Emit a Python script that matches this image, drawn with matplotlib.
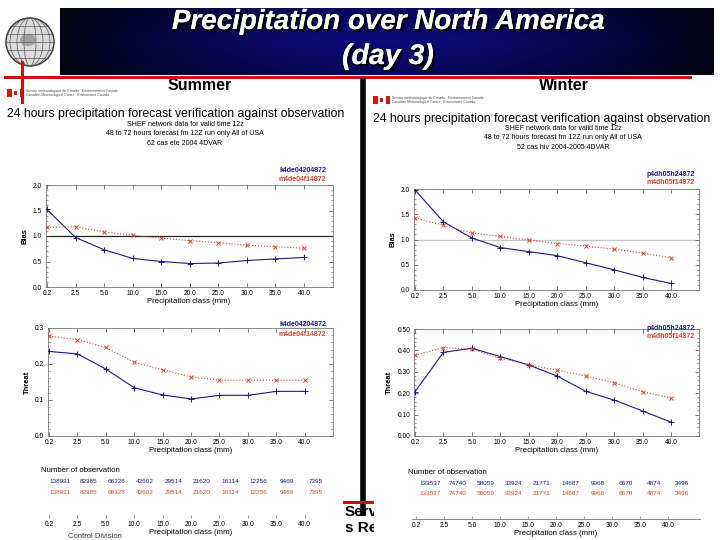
import numpy as np
import matplotlib
matplotlib.use('Agg')
import matplotlib.pyplot as plt
import matplotlib.patheffects as pe
from matplotlib.patches import Rectangle, Circle, Ellipse
from matplotlib.ticker import AutoMinorLocator, FormatStrFormatter

plt.rcParams['font.family'] = ['Liberation Sans', 'DejaVu Sans']

W, H = 720, 540

# data
classes = ['0.2', '2.5', '5.0', '10.0', '15.0', '20.0', '25.0', '30.0', '35.0', '40.0']

summer_names = ['k4de04204872', 'm4de04f14872']
winter_names = ['p4dh05h24872', 'm4dh05f14872']

summer_bias_k = [1.52, 0.97, 0.73, 0.56, 0.50, 0.46, 0.47, 0.52, 0.55, 0.58]
summer_bias_m = [1.17, 1.18, 1.08, 1.01, 0.96, 0.91, 0.87, 0.82, 0.79, 0.76]
summer_threat_k = [0.235, 0.228, 0.186, 0.134, 0.114, 0.103, 0.113, 0.113, 0.124, 0.124]
summer_threat_m = [0.277, 0.268, 0.246, 0.205, 0.184, 0.164, 0.155, 0.155, 0.155, 0.155]

winter_bias_p = [1.98, 1.35, 1.03, 0.84, 0.76, 0.68, 0.54, 0.40, 0.25, 0.13]
winter_bias_m = [1.43, 1.28, 1.13, 1.06, 0.99, 0.92, 0.87, 0.81, 0.73, 0.64]
winter_threat_p = [0.207, 0.391, 0.410, 0.371, 0.332, 0.280, 0.209, 0.168, 0.117, 0.065]
winter_threat_m = [0.377, 0.413, 0.405, 0.363, 0.332, 0.308, 0.280, 0.249, 0.207, 0.178]

summer_nobs = [138931, 82385, 66328, 42602, 29514, 21620, 16114, 12256, 9469, 7395]
winter_nobs = [133537, 74740, 58059, 33924, 21771, 14687, 9968, 6670, 4874, 3496]

head = '24 hours precipitation forecast verification against observation'
summer_sub = ['SHEF network data for valid time 12z',
              '48 to 72 hours forecast fm 12Z run only All of USA',
              '62 cas ete 2004 4DVAR']
winter_sub = ['SHEF network data for valid time 12z',
              '48 to 72 hours forecast fm 12Z run only All of USA',
              '52 cas hiv 2004-2005 4DVAR']

BLUE = '#1c1c84'
RED = '#d8432c'


def box(x0, y0, x1, y1):
    return [x0 / W, 1 - y1 / H, (x1 - x0) / W, (y1 - y0) / H]


def ftext(x, y, s, **kw):
    fig.text(x / W, 1 - y / H, s, **kw)


fig = plt.figure(figsize=(7.2, 5.4), dpi=100, facecolor='white')

# overlay axes for the slide decorations, pixel coords
deco = fig.add_axes([0, 0, 1, 1])
deco.set_xlim(0, W)
deco.set_ylim(H, 0)
deco.axis('off')

# banner with gradient
grad = np.linspace(-1, 1, 300)
g = 1 - np.abs(grad) ** 1.6
rgb = np.zeros((20, 300, 3))
vert = 1 - 0.25 * np.abs(np.linspace(-1, 1, 20))[:, None]
rgb[..., 0] = (0.01 + 0.03 * g) * vert
rgb[..., 1] = (0.01 + 0.03 * g) * vert
rgb[..., 2] = (0.08 + 0.40 * g) * vert
deco.imshow(rgb, extent=[60, 714, 75, 8], aspect='auto', zorder=1)

shadow = [pe.withSimplePatchShadow(offset=(1.6, -1.6), shadow_rgbFace='black', alpha=1.0), pe.Normal()]
deco.text(388, 22, 'Precipitation over North America', color='white', fontsize=20,
          fontweight='bold', fontstyle='italic', ha='center', va='center', path_effects=shadow, zorder=3)
deco.text(388, 57, '(day 3)', color='white', fontsize=20.5,
          fontweight='bold', fontstyle='italic', ha='center', va='center', path_effects=shadow, zorder=3)

# globe logo
deco.add_patch(Circle((30, 42), 24, facecolor='#dcdcdc', edgecolor='#333333', lw=1.0, zorder=2))
for w in [6, 13, 20]:
    deco.add_patch(Ellipse((30, 42), w * 2, 48, fill=False, edgecolor='#555555', lw=0.5, zorder=2))
for dy in [-16, -8, 0, 8, 16]:
    half = np.sqrt(max(24 ** 2 - dy ** 2, 0))
    deco.plot([30 - half, 30 + half], [42 + dy, 42 + dy], color='#555555', lw=0.5, zorder=2)
deco.add_patch(Ellipse((28, 40), 16, 12, facecolor='#7a7a7a', edgecolor='none', alpha=0.6, zorder=2))

# red cross lines
deco.plot([5, 690], [77, 77], color='#d01010', lw=2.2, zorder=4)
deco.plot([22, 22], [62, 102], color='#d01010', lw=2.2, zorder=4)

# section titles
deco.text(200, 85, 'Summer', fontsize=11.5, fontweight='bold', ha='center', va='center', zorder=3)
deco.text(564, 85, 'Winter', fontsize=11.5, fontweight='bold', ha='center', va='center', zorder=3)

# black divider
deco.plot([362.5, 362.5], [78, 516], color='black', lw=4, zorder=6, solid_capstyle='butt')

# small flags and agency text
for fx, fy in [(7, 89), (373, 96)]:
    deco.add_patch(Rectangle((fx, fy), 17, 8, facecolor='white', edgecolor='none', zorder=3))
    deco.add_patch(Rectangle((fx, fy), 4.5, 8, facecolor='#e01010', edgecolor='none', zorder=3))
    deco.add_patch(Rectangle((fx + 12.5, fy), 4.5, 8, facecolor='#e01010', edgecolor='none', zorder=3))
    deco.add_patch(Rectangle((fx + 6.8, fy + 2), 3.4, 4, facecolor='#e01010', edgecolor='none', zorder=3))
    deco.text(fx + 19, fy + 2.2, 'Service météorologique du Canada   Environnement Canada',
              fontsize=2.4, color='#444444', va='center', zorder=3)
    deco.text(fx + 19, fy + 6.0, 'Canadian Meteorological Centre   Environment Canada',
              fontsize=2.4, color='#444444', va='center', zorder=3)

# chart headers
deco.text(176, 114, head, fontsize=8.8, ha='center', va='center')
for i, s in enumerate(summer_sub):
    deco.text(185, 124 + 9.6 * i, s, fontsize=5.0, ha='center', va='center')
deco.text(542, 119, head, fontsize=8.8, ha='center', va='center')
for i, s in enumerate(winter_sub):
    deco.text(563, 128 + 9.8 * i, s, fontsize=5.0, ha='center', va='center')

# leftover slide text in the middle, clipped
mid = fig.add_axes(box(340, 495, 374, 540))
mid.set_xlim(340, 374)
mid.set_ylim(540, 495)
mid.axis('off')
mid.plot([344, 374], [501.5, 501.5], color='#c81010', lw=2.2)
mid.text(345, 512, 'Serv', fontsize=11, fontweight='bold', va='center', clip_on=True)
mid.text(345, 528, 's Re', fontsize=11, fontweight='bold', va='center', clip_on=True)
deco.text(68, 536, 'Control Division', fontsize=5.5, color='#333333', va='center')


def score_panel(rect, ylim, yticks, fmt, ylabel, k, m, names, legend_xy, ref=None):
    ax = fig.add_axes(rect)
    x = np.arange(len(classes))
    if ref is not None:
        ax.axhline(1.0, color=ref, lw=0.9, zorder=1)
    ax.plot(x, k, color=BLUE, lw=0.8, marker='+', ms=4, mew=0.7, zorder=3)
    ax.plot(x, m, color=RED, lw=0.8, ls=':', marker='x', ms=3.2, mew=0.7, zorder=3)
    ax.set_xlim(-0.05, 10.0)
    ax.set_ylim(*ylim)
    ax.set_xticks(x)
    ax.set_xticklabels(classes)
    ax.set_yticks(yticks)
    ax.yaxis.set_major_formatter(FormatStrFormatter(fmt))
    ax.yaxis.set_minor_locator(AutoMinorLocator(5))
    ax.tick_params(axis='both', which='both', direction='in', top=True, right=True,
                   labelsize=4.8, pad=2.5, color='#444444')
    ax.tick_params(which='major', length=3, width=0.5)
    ax.tick_params(which='minor', length=1.5, width=0.4)
    for sp in ax.spines.values():
        sp.set_color('#777777')
        sp.set_linewidth(0.6)
    ax.set_xlabel('Precipitation class (mm)', fontsize=5.6, labelpad=0.5)
    ax.set_ylabel(ylabel, fontsize=5.4, fontweight='bold', labelpad=3)
    lx, ly = legend_xy
    ftext(lx, ly, names[0], fontsize=5, fontweight='bold', color=BLUE, ha='right', va='center')
    ftext(lx, ly + 9, names[1], fontsize=5, fontweight='bold', color=RED, ha='right', va='center')
    return ax


score_panel(box(45.6, 185, 332.6, 287), (0, 2.0), [0, 0.5, 1.0, 1.5, 2.0], '%.1f', 'Bias',
            summer_bias_k, summer_bias_m, summer_names, (326, 171), ref='#222222')
score_panel(box(47.6, 328, 333, 436), (0, 0.3), [0, 0.1, 0.2, 0.3], '%.1f', 'Threat',
            summer_threat_k, summer_threat_m, summer_names, (326, 325))
score_panel(box(413.6, 189, 699.4, 290), (0, 2.0), [0, 0.5, 1.0, 1.5, 2.0], '%.1f', 'Bias',
            winter_bias_p, winter_bias_m, winter_names, (695, 174), ref='#c8c8c8')
score_panel(box(413.6, 329, 699.4, 436), (0, 0.5), [0, 0.1, 0.2, 0.3, 0.4, 0.5], '%.2f', 'Threat',
            winter_threat_p, winter_threat_m, winter_names, (695, 328))


def nobs_panel(rect, xlim, nobs, offset, title_x, show_line):
    ax = fig.add_axes(rect)
    x = np.arange(len(classes))
    ax.set_xlim(*xlim)
    ax.set_ylim(0, 1)
    for sp in ['left', 'right', 'top']:
        ax.spines[sp].set_visible(False)
    ax.spines['bottom'].set_visible(show_line)
    ax.spines['bottom'].set_color('#777777')
    ax.spines['bottom'].set_linewidth(0.6)
    ax.set_yticks([])
    ax.set_xticks(x)
    ax.set_xticklabels(classes)
    ax.tick_params(axis='x', direction='in', length=2, width=0.5, labelsize=4.8, pad=2.5, color='#777777')
    ax.set_xlabel('Precipitation class (mm)', fontsize=5.6, labelpad=0.5)
    for i, n in enumerate(nobs):
        ax.text(i + offset, 0.70, str(n), color=BLUE, fontsize=4.6, ha='center', va='center')
        ax.text(i + offset, 0.50, str(n), color=RED, fontsize=4.6, ha='center', va='center')
    ax.text(title_x, 0.92, 'Number of observation', fontsize=5.6, ha='left', va='center')
    return ax


# summer: ticks 49 .. 305, baseline 518
nobs_panel(box(47.6, 466, 333, 518), (-0.05, 10.0), summer_nobs, 0.38, -0.27, False)
# winter: ticks 416 .. 668, axis line 519
nobs_panel(box(412, 468, 700, 519), (-0.143, 10.14), winter_nobs, 0.5, -0.28, True)

fig.savefig('out.png', dpi=100, facecolor='white')
